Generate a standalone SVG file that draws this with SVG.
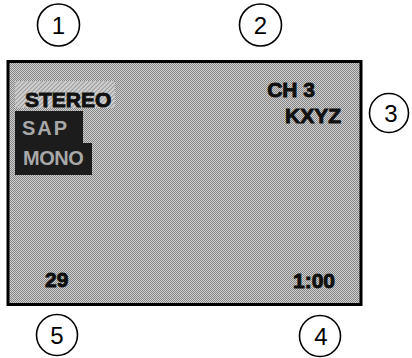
<svg xmlns="http://www.w3.org/2000/svg" width="412" height="358" viewBox="0 0 412 358">
<style>
.callout circle{fill:#fff;stroke:#000;stroke-width:1.6}
.callout text{font-family:"Liberation Sans",Arial,sans-serif;font-size:24px;fill:#000;text-anchor:middle}
.osd{font-family:"Liberation Sans",Arial,sans-serif;font-weight:bold;font-size:21px;fill:#111;stroke:#111;stroke-width:0.9}
.inv{font-family:"Liberation Sans",Arial,sans-serif;font-weight:bold;font-size:20px;fill:#a8a8a8}
</style>
<defs>
<pattern id="dither" width="2" height="2" patternUnits="userSpaceOnUse">
<rect width="2" height="2" fill="#d0d0d0"/>
<rect width="1" height="1" fill="#858585"/>
<rect x="1" y="1" width="1" height="1" fill="#858585"/>
</pattern>
<pattern id="hatch" width="3" height="3" patternUnits="userSpaceOnUse" patternTransform="rotate(45)">
<rect width="3" height="3" fill="#cfcfcf"/>
<rect width="1" height="3" fill="#9a9a9a"/>
</pattern>
</defs>
<g id="screen">
<rect x="8" y="61.5" width="353" height="243" fill="url(#dither)" stroke="#000" stroke-width="3"/>
</g>
<g id="stereo">
<rect x="15" y="81" width="100" height="27" fill="url(#hatch)"/>
<text class="osd" x="25" y="107">STEREO</text>
</g>
<g id="sap-mono">
<path d="M15 111 H83 V143 H92 V175 H15 Z" fill="#1c1c1c"/>
<text class="inv" x="22" y="135" letter-spacing="2">SAP</text>
<text class="inv" x="23" y="165" letter-spacing="-0.5">MONO</text>
</g>
<g id="channel">
<text class="osd" x="315" y="97" text-anchor="end" font-size="22">CH 3</text>
<text class="osd" x="341" y="123" text-anchor="end" font-size="22">KXYZ</text>
</g>
<g id="number">
<text class="osd" x="45" y="287">29</text>
</g>
<g id="time">
<text class="osd" x="335" y="288" text-anchor="end" font-size="22">1:00</text>
</g>
<g id="c1" class="callout"><circle cx="58.5" cy="25" r="21"/><text x="58.5" y="34">1</text></g>
<g id="c2" class="callout"><circle cx="260.5" cy="25" r="21"/><text x="260.5" y="34">2</text></g>
<g id="c3" class="callout"><circle cx="389" cy="113" r="19.5"/><text x="391" y="122">3</text></g>
<g id="c4" class="callout"><circle cx="320" cy="336" r="20.5"/><text x="321" y="345">4</text></g>
<g id="c5" class="callout"><circle cx="57" cy="335" r="20.5"/><text x="57" y="344">5</text></g>
</svg>
